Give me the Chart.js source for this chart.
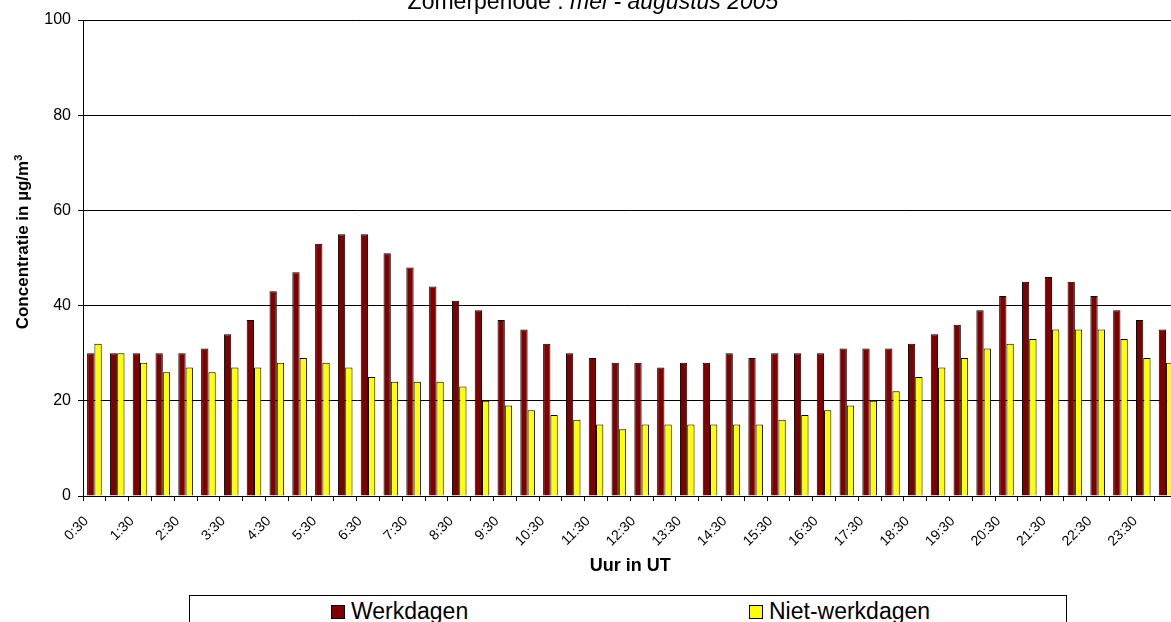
<!DOCTYPE html>
<html>
<head>
<meta charset="utf-8">
<script src="https://cdn.jsdelivr.net/npm/chart.js@4/dist/chart.umd.min.js"></script>
<style>
  html, body { margin:0; padding:0; background:#fff; overflow:hidden; width:1171px; height:622px; }
  body { position:relative; font-family:"Liberation Sans", Arial, sans-serif; color:#000; }
  #c { position:absolute; left:0; top:0; }
  #title { position:absolute; left:293px; top:-10px; width:600px; text-align:center; font-size:23px; line-height:23px; white-space:nowrap; }
  #ytitle { position:absolute; left:-77px; top:230px; width:200px; height:24px; line-height:24px; text-align:center; font-size:17px; font-weight:bold; white-space:nowrap; transform:rotate(-90deg); }
  #ytitle sup { font-size:11px; line-height:0; vertical-align:6px; }
  #legend { position:absolute; left:189px; top:595px; width:876px; height:40px; border:1px solid #000; background:#fff; }
  .lg-box { position:absolute; top:9px; width:12px; height:12px; border:1px solid #000; }
  .lg-txt { position:absolute; top:4px; font-size:23px; line-height:23px; white-space:nowrap; }
</style>
</head>
<body>
<canvas id="c" width="1190" height="622"></canvas>
<div id="title">Zomerperiode : <i>mei - augustus 2005</i></div>
<div id="ytitle">Concentratie in µg/m<sup>3</sup></div>
<div id="legend"></div>
<script>
const categories = ['0:30','1:00','1:30','2:00','2:30','3:00','3:30','4:00','4:30','5:00','5:30','6:00',
  '6:30','7:00','7:30','8:00','8:30','9:00','9:30','10:00','10:30','11:00','11:30','12:00',
  '12:30','13:00','13:30','14:00','14:30','15:00','15:30','16:00','16:30','17:00','17:30','18:00',
  '18:30','19:00','19:30','20:00','20:30','21:00','21:30','22:00','22:30','23:00','23:30','24:00'];
const werkdagen = [30,30,30,30,30,31,34,37,43,47,53,55,55,51,48,44,41,39,37,35,32,30,29,28,
  28,27,28,28,30,29,30,30,30,31,31,31,32,34,36,39,42,45,46,45,42,39,37,35];
const nietWerkdagen = [32,30,28,26,27,26,27,27,28,29,28,27,25,24,24,24,23,20,19,18,17,16,15,14,
  15,15,15,15,15,15,16,17,18,19,20,22,25,27,29,31,32,33,35,35,35,33,29,28];
const yTicks = [0,20,40,60,80,100];
const seriesNames = ['Werkdagen','Niet-werkdagen'];
const seriesColors = ['#800000','#FFFF00'];

const FONT = '"Liberation Sans", Arial, sans-serif';

const chart = new Chart(document.getElementById('c'), {
  type: 'bar',
  data: {
    labels: categories,
    datasets: [
      { label: seriesNames[0], data: werkdagen, backgroundColor: seriesColors[0], borderColor:'#000', borderWidth:1 },
      { label: seriesNames[1], data: nietWerkdagen, backgroundColor: seriesColors[1], borderColor:'#000', borderWidth:1 }
    ]
  },
  options: {
    responsive: false,
    animation: false,
    devicePixelRatio: 1,
    layout: { padding: { top: 20, left: 0, right: 6, bottom: 36 } },
    datasets: { bar: { barPercentage: 1, categoryPercentage: 0.64 } },
    plugins: { legend: { display:false }, title: { display:false }, tooltip: { enabled:false } },
    scales: {
      x: {
        grid: { display:true, drawOnChartArea:false, drawTicks:true, tickLength:5, color:'#000', offset:true },
        border: { display:true, color:'#000', width:1 },
        ticks: {
          autoSkip:false, maxRotation:45, minRotation:45, padding:12, labelOffset:-8, color:'#000',
          font: { family: FONT, size: 14 },
          callback: function(v, i) { return i % 2 === 0 ? categories[i] : ''; }
        },
        title: { display:true, text:'Uur in UT', color:'#000', font:{ family: FONT, size:18, weight:'bold' }, padding:{ top:4, bottom:9 } },
        afterFit: function(axis) { axis.height = 90; }
      },
      y: {
        min: 0, max: 100,
        afterBuildTicks: function(axis) { axis.ticks = yTicks.map(v => ({ value: v })); },
        grid: { color:'#000', lineWidth:1, tickLength:5, drawTicks:true },
        border: { display:true, color:'#000', width:1 },
        ticks: { color:'#000', padding:7, font: { family: FONT, size: 16 } },
        title: { display:false },
        afterFit: function(axis) { axis.width = 83; }
      }
    }
  }
});

// HTML legend built from the chart's datasets
const legend = document.getElementById('legend');
const itemLeft = [141, 559];
chart.data.datasets.forEach((ds, i) => {
  const box = document.createElement('div');
  box.className = 'lg-box';
  box.style.left = itemLeft[i] + 'px';
  box.style.background = ds.backgroundColor;
  legend.appendChild(box);
  const t = document.createElement('div');
  t.className = 'lg-txt';
  t.style.left = (itemLeft[i] + 20) + 'px';
  t.textContent = ds.label;
  legend.appendChild(t);
});
</script>
</body>
</html>
